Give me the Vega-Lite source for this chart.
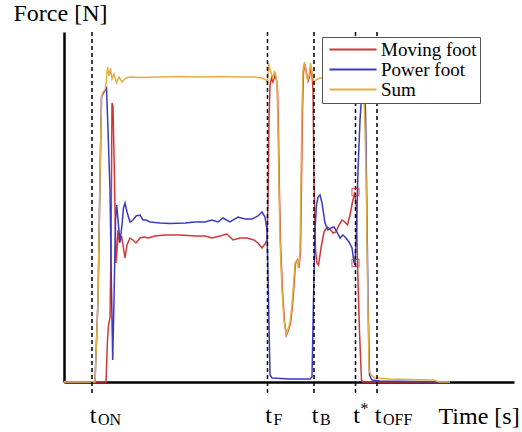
{
  "$schema": "https://vega.github.io/schema/vega-lite/v6.json",
  "width": 450,
  "height": 350,
  "autosize": "none",
  "padding": {"left": 64, "top": 32, "right": 8, "bottom": 50},
  "config": {
    "view": {"stroke": null},
    "font": "Liberation Serif",
    "axis": {"domain": true, "domainColor": "#000", "domainWidth": 2.5, "ticks": false, "labels": false, "grid": false,
      "titleFont": "Liberation Serif", "titleFontSize": 24, "titleFontWeight": "normal", "titleColor": "#000"}
  },
  "datasets": {
    "lines": [
      {"series": "Moving foot", "t": 0, "F": 0},
      {"series": "Moving foot", "t": 42, "F": 0},
      {"series": "Moving foot", "t": 43.5, "F": 42},
      {"series": "Moving foot", "t": 44.5, "F": 57},
      {"series": "Moving foot", "t": 46, "F": 64},
      {"series": "Moving foot", "t": 47, "F": 132},
      {"series": "Moving foot", "t": 48, "F": 279},
      {"series": "Moving foot", "t": 49, "F": 276},
      {"series": "Moving foot", "t": 50.5, "F": 202},
      {"series": "Moving foot", "t": 52, "F": 119},
      {"series": "Moving foot", "t": 53, "F": 132},
      {"series": "Moving foot", "t": 54, "F": 152},
      {"series": "Moving foot", "t": 55.5, "F": 139},
      {"series": "Moving foot", "t": 57.5, "F": 146},
      {"series": "Moving foot", "t": 59, "F": 137},
      {"series": "Moving foot", "t": 61, "F": 124},
      {"series": "Moving foot", "t": 63, "F": 137},
      {"series": "Moving foot", "t": 66, "F": 144},
      {"series": "Moving foot", "t": 69, "F": 142},
      {"series": "Moving foot", "t": 72, "F": 139},
      {"series": "Moving foot", "t": 76, "F": 144},
      {"series": "Moving foot", "t": 80, "F": 145},
      {"series": "Moving foot", "t": 84, "F": 144},
      {"series": "Moving foot", "t": 91, "F": 146},
      {"series": "Moving foot", "t": 101, "F": 147},
      {"series": "Moving foot", "t": 116, "F": 147},
      {"series": "Moving foot", "t": 131, "F": 146},
      {"series": "Moving foot", "t": 141, "F": 146},
      {"series": "Moving foot", "t": 148, "F": 144},
      {"series": "Moving foot", "t": 156, "F": 146},
      {"series": "Moving foot", "t": 163, "F": 148},
      {"series": "Moving foot", "t": 169, "F": 142},
      {"series": "Moving foot", "t": 176, "F": 144},
      {"series": "Moving foot", "t": 183, "F": 144},
      {"series": "Moving foot", "t": 190, "F": 142},
      {"series": "Moving foot", "t": 194, "F": 139},
      {"series": "Moving foot", "t": 198, "F": 134},
      {"series": "Moving foot", "t": 201, "F": 138},
      {"series": "Moving foot", "t": 203, "F": 142},
      {"series": "Moving foot", "t": 204, "F": 182},
      {"series": "Moving foot", "t": 205, "F": 262},
      {"series": "Moving foot", "t": 206, "F": 297},
      {"series": "Moving foot", "t": 207.5, "F": 304},
      {"series": "Moving foot", "t": 209, "F": 300},
      {"series": "Moving foot", "t": 211, "F": 307},
      {"series": "Moving foot", "t": 212.5, "F": 302},
      {"series": "Moving foot", "t": 213.5, "F": 292},
      {"series": "Moving foot", "t": 214.5, "F": 247},
      {"series": "Moving foot", "t": 215.5, "F": 187},
      {"series": "Moving foot", "t": 216.5, "F": 140},
      {"series": "Moving foot", "t": 218.5, "F": 90},
      {"series": "Moving foot", "t": 220.5, "F": 60},
      {"series": "Moving foot", "t": 222.5, "F": 47},
      {"series": "Moving foot", "t": 224.5, "F": 52},
      {"series": "Moving foot", "t": 226.5, "F": 59},
      {"series": "Moving foot", "t": 228.5, "F": 77},
      {"series": "Moving foot", "t": 230, "F": 97},
      {"series": "Moving foot", "t": 231.5, "F": 119},
      {"series": "Moving foot", "t": 233.5, "F": 122},
      {"series": "Moving foot", "t": 235, "F": 114},
      {"series": "Moving foot", "t": 236.5, "F": 132},
      {"series": "Moving foot", "t": 237.5, "F": 202},
      {"series": "Moving foot", "t": 238.5, "F": 272},
      {"series": "Moving foot", "t": 239.5, "F": 310},
      {"series": "Moving foot", "t": 241, "F": 318},
      {"series": "Moving foot", "t": 242.5, "F": 309},
      {"series": "Moving foot", "t": 244, "F": 301},
      {"series": "Moving foot", "t": 245.5, "F": 305},
      {"series": "Moving foot", "t": 247, "F": 316},
      {"series": "Moving foot", "t": 248, "F": 308},
      {"series": "Moving foot", "t": 249, "F": 292},
      {"series": "Moving foot", "t": 250, "F": 202},
      {"series": "Moving foot", "t": 251.5, "F": 132},
      {"series": "Moving foot", "t": 253, "F": 119},
      {"series": "Moving foot", "t": 254.5, "F": 117},
      {"series": "Moving foot", "t": 256, "F": 127},
      {"series": "Moving foot", "t": 257.5, "F": 137},
      {"series": "Moving foot", "t": 260, "F": 150},
      {"series": "Moving foot", "t": 263, "F": 155},
      {"series": "Moving foot", "t": 266, "F": 153},
      {"series": "Moving foot", "t": 269, "F": 149},
      {"series": "Moving foot", "t": 272, "F": 150},
      {"series": "Moving foot", "t": 275, "F": 157},
      {"series": "Moving foot", "t": 278, "F": 162},
      {"series": "Moving foot", "t": 281, "F": 160},
      {"series": "Moving foot", "t": 283.5, "F": 157},
      {"series": "Moving foot", "t": 286, "F": 167},
      {"series": "Moving foot", "t": 288.5, "F": 180},
      {"series": "Moving foot", "t": 291, "F": 190},
      {"series": "Moving foot", "t": 292.5, "F": 170},
      {"series": "Moving foot", "t": 293.5, "F": 119},
      {"series": "Moving foot", "t": 295.5, "F": 50},
      {"series": "Moving foot", "t": 297.5, "F": 2},
      {"series": "Moving foot", "t": 299, "F": 0},
      {"series": "Moving foot", "t": 386, "F": 0},

      {"series": "Power foot", "t": 0, "F": 0},
      {"series": "Power foot", "t": 31, "F": 0},
      {"series": "Power foot", "t": 34, "F": 82},
      {"series": "Power foot", "t": 36, "F": 202},
      {"series": "Power foot", "t": 37.5, "F": 285},
      {"series": "Power foot", "t": 40, "F": 290},
      {"series": "Power foot", "t": 42.5, "F": 294},
      {"series": "Power foot", "t": 44, "F": 252},
      {"series": "Power foot", "t": 46, "F": 192},
      {"series": "Power foot", "t": 47.5, "F": 92},
      {"series": "Power foot", "t": 48.7, "F": 22},
      {"series": "Power foot", "t": 50, "F": 82},
      {"series": "Power foot", "t": 51.5, "F": 162},
      {"series": "Power foot", "t": 52.7, "F": 177},
      {"series": "Power foot", "t": 54, "F": 162},
      {"series": "Power foot", "t": 56, "F": 140},
      {"series": "Power foot", "t": 58, "F": 157},
      {"series": "Power foot", "t": 59.5, "F": 174},
      {"series": "Power foot", "t": 61, "F": 179},
      {"series": "Power foot", "t": 63, "F": 170},
      {"series": "Power foot", "t": 66, "F": 160},
      {"series": "Power foot", "t": 69, "F": 162},
      {"series": "Power foot", "t": 72, "F": 166},
      {"series": "Power foot", "t": 76, "F": 167},
      {"series": "Power foot", "t": 79, "F": 162},
      {"series": "Power foot", "t": 82, "F": 162},
      {"series": "Power foot", "t": 86, "F": 160},
      {"series": "Power foot", "t": 96, "F": 159},
      {"series": "Power foot", "t": 106, "F": 158.5},
      {"series": "Power foot", "t": 121, "F": 159},
      {"series": "Power foot", "t": 131, "F": 160},
      {"series": "Power foot", "t": 141, "F": 160},
      {"series": "Power foot", "t": 148, "F": 162},
      {"series": "Power foot", "t": 154, "F": 160},
      {"series": "Power foot", "t": 159, "F": 164},
      {"series": "Power foot", "t": 166, "F": 160},
      {"series": "Power foot", "t": 174, "F": 165},
      {"series": "Power foot", "t": 181, "F": 163},
      {"series": "Power foot", "t": 188, "F": 163},
      {"series": "Power foot", "t": 194, "F": 166},
      {"series": "Power foot", "t": 198, "F": 170},
      {"series": "Power foot", "t": 201, "F": 165},
      {"series": "Power foot", "t": 203, "F": 152},
      {"series": "Power foot", "t": 204.5, "F": 82},
      {"series": "Power foot", "t": 206, "F": 7},
      {"series": "Power foot", "t": 208, "F": 4},
      {"series": "Power foot", "t": 226, "F": 3},
      {"series": "Power foot", "t": 246, "F": 3},
      {"series": "Power foot", "t": 248, "F": 5},
      {"series": "Power foot", "t": 249.5, "F": 82},
      {"series": "Power foot", "t": 251, "F": 152},
      {"series": "Power foot", "t": 252.5, "F": 177},
      {"series": "Power foot", "t": 254, "F": 185},
      {"series": "Power foot", "t": 256, "F": 187},
      {"series": "Power foot", "t": 258, "F": 179},
      {"series": "Power foot", "t": 261, "F": 159},
      {"series": "Power foot", "t": 264, "F": 152},
      {"series": "Power foot", "t": 267, "F": 154},
      {"series": "Power foot", "t": 270, "F": 155},
      {"series": "Power foot", "t": 273, "F": 150},
      {"series": "Power foot", "t": 276, "F": 144},
      {"series": "Power foot", "t": 279, "F": 147},
      {"series": "Power foot", "t": 282, "F": 144},
      {"series": "Power foot", "t": 285, "F": 140},
      {"series": "Power foot", "t": 288, "F": 134},
      {"series": "Power foot", "t": 290, "F": 120},
      {"series": "Power foot", "t": 291, "F": 117},
      {"series": "Power foot", "t": 292.5, "F": 152},
      {"series": "Power foot", "t": 294, "F": 212},
      {"series": "Power foot", "t": 296, "F": 262},
      {"series": "Power foot", "t": 298, "F": 292},
      {"series": "Power foot", "t": 300, "F": 304},
      {"series": "Power foot", "t": 301.5, "F": 270},
      {"series": "Power foot", "t": 302.5, "F": 202},
      {"series": "Power foot", "t": 304, "F": 82},
      {"series": "Power foot", "t": 305.5, "F": 7},
      {"series": "Power foot", "t": 308, "F": 2},
      {"series": "Power foot", "t": 316, "F": 1},
      {"series": "Power foot", "t": 386, "F": 0},

      {"series": "Sum", "t": 0, "F": 0},
      {"series": "Sum", "t": 31, "F": 0},
      {"series": "Sum", "t": 34, "F": 82},
      {"series": "Sum", "t": 36, "F": 202},
      {"series": "Sum", "t": 37.5, "F": 285},
      {"series": "Sum", "t": 39, "F": 290},
      {"series": "Sum", "t": 41, "F": 292},
      {"series": "Sum", "t": 42, "F": 298},
      {"series": "Sum", "t": 43.5, "F": 315},
      {"series": "Sum", "t": 45, "F": 306},
      {"series": "Sum", "t": 46.5, "F": 314},
      {"series": "Sum", "t": 48, "F": 303},
      {"series": "Sum", "t": 50, "F": 308},
      {"series": "Sum", "t": 52.5, "F": 299},
      {"series": "Sum", "t": 55, "F": 305},
      {"series": "Sum", "t": 58, "F": 300},
      {"series": "Sum", "t": 62, "F": 304},
      {"series": "Sum", "t": 66, "F": 305},
      {"series": "Sum", "t": 76, "F": 304.5},
      {"series": "Sum", "t": 96, "F": 305},
      {"series": "Sum", "t": 116, "F": 305.5},
      {"series": "Sum", "t": 136, "F": 305},
      {"series": "Sum", "t": 156, "F": 305.5},
      {"series": "Sum", "t": 176, "F": 305},
      {"series": "Sum", "t": 191, "F": 305},
      {"series": "Sum", "t": 198, "F": 304},
      {"series": "Sum", "t": 202, "F": 302},
      {"series": "Sum", "t": 203.5, "F": 300},
      {"series": "Sum", "t": 204.5, "F": 319},
      {"series": "Sum", "t": 206, "F": 312},
      {"series": "Sum", "t": 207.5, "F": 308},
      {"series": "Sum", "t": 209, "F": 304},
      {"series": "Sum", "t": 210.5, "F": 311},
      {"series": "Sum", "t": 212, "F": 306},
      {"series": "Sum", "t": 213, "F": 297},
      {"series": "Sum", "t": 214, "F": 252},
      {"series": "Sum", "t": 215, "F": 192},
      {"series": "Sum", "t": 216, "F": 142},
      {"series": "Sum", "t": 218, "F": 92},
      {"series": "Sum", "t": 220, "F": 62},
      {"series": "Sum", "t": 222, "F": 47},
      {"series": "Sum", "t": 224, "F": 52},
      {"series": "Sum", "t": 226, "F": 59},
      {"series": "Sum", "t": 228, "F": 77},
      {"series": "Sum", "t": 229.5, "F": 97},
      {"series": "Sum", "t": 231, "F": 119},
      {"series": "Sum", "t": 233, "F": 122},
      {"series": "Sum", "t": 234.5, "F": 114},
      {"series": "Sum", "t": 236, "F": 132},
      {"series": "Sum", "t": 237, "F": 202},
      {"series": "Sum", "t": 238, "F": 272},
      {"series": "Sum", "t": 239, "F": 312},
      {"series": "Sum", "t": 240.5, "F": 320},
      {"series": "Sum", "t": 242, "F": 310},
      {"series": "Sum", "t": 243.5, "F": 302},
      {"series": "Sum", "t": 245, "F": 306},
      {"series": "Sum", "t": 246.5, "F": 319},
      {"series": "Sum", "t": 248, "F": 310},
      {"series": "Sum", "t": 249.5, "F": 300},
      {"series": "Sum", "t": 252, "F": 302},
      {"series": "Sum", "t": 256, "F": 304},
      {"series": "Sum", "t": 266, "F": 305},
      {"series": "Sum", "t": 286, "F": 305},
      {"series": "Sum", "t": 296, "F": 306},
      {"series": "Sum", "t": 299, "F": 302},
      {"series": "Sum", "t": 300.5, "F": 272},
      {"series": "Sum", "t": 302, "F": 212},
      {"series": "Sum", "t": 303.5, "F": 102},
      {"series": "Sum", "t": 305, "F": 12},
      {"series": "Sum", "t": 307, "F": 7},
      {"series": "Sum", "t": 311, "F": 4},
      {"series": "Sum", "t": 326, "F": 3},
      {"series": "Sum", "t": 369, "F": 2},
      {"series": "Sum", "t": 376, "F": 0},
      {"series": "Sum", "t": 386, "F": 0}
    ],
    "events": [
      {"t": 28, "main": "t", "sub": "ON", "kind": "sub"},
      {"t": 203.5, "main": "t", "sub": "F", "kind": "sub"},
      {"t": 250, "main": "t", "sub": "B", "kind": "sub"},
      {"t": 291.5, "main": "t", "sub": "*", "kind": "sup"},
      {"t": 313, "main": "t", "sub": "OFF", "kind": "sub"}
    ],
    "markers": [
      {"t": 291.5, "F": 190},
      {"t": 291.5, "F": 119}
    ]
  },
  "layer": [
    {
      "data": {"name": "lines"},
      "mark": {"type": "line", "strokeWidth": 1.5, "interpolate": "linear"},
      "encoding": {
        "x": {"field": "t", "type": "quantitative", "scale": {"domain": [0, 450], "nice": false, "zero": false},
          "axis": {"title": "Time [s]", "titleX": 374, "titleY": 41, "titleAlign": "left", "titleBaseline": "alphabetic", "titleFontWeight": "normal"}},
        "y": {"field": "F", "type": "quantitative", "scale": {"domain": [0, 350], "nice": false, "zero": false},
          "axis": {"title": "Force [N]", "titleAngle": 0, "titleX": -51, "titleY": -11.5, "titleAlign": "left", "titleBaseline": "alphabetic", "titleFontWeight": "normal"}},
        "color": {"field": "series", "type": "nominal",
          "scale": {"domain": ["Moving foot", "Power foot", "Sum"], "range": ["#d03838", "#3b3bc0", "#e4ae42"]},
          "legend": {"title": null, "orient": "none", "legendX": 258, "legendY": 5, "padding": 3,
            "strokeColor": "#555", "fillColor": "#fff", "labelFont": "Liberation Serif", "labelFontSize": 19,
            "labelColor": "#000", "symbolType": "M-4.7,0H4.7", "symbolSize": 100, "symbolStrokeWidth": 2,
            "symbolOffset": 18.5, "rowPadding": -2, "labelOffset": 18.5}}
      }
    },
    {
      "data": {"name": "events"},
      "mark": {"type": "rule", "strokeDash": [4, 3], "strokeWidth": 1.5, "color": "#000"},
      "encoding": {
        "x": {"field": "t", "type": "quantitative"},
        "y": {"datum": 350},
        "y2": {"datum": -11}
      }
    },
    {
      "data": {"name": "markers"},
      "mark": {"type": "point", "shape": "square", "filled": false, "size": 50, "strokeWidth": 1.2, "color": "#d03838"},
      "encoding": {
        "x": {"field": "t", "type": "quantitative"},
        "y": {"field": "F", "type": "quantitative"}
      }
    },
    {
      "data": {"name": "events"},
      "mark": {"type": "text", "font": "Liberation Serif", "fontSize": 24, "align": "center", "baseline": "alphabetic", "dx": 1, "color": "#000"},
      "encoding": {
        "x": {"field": "t", "type": "quantitative"},
        "y": {"datum": -41},
        "text": {"field": "main"}
      }
    },
    {
      "data": {"name": "events"},
      "transform": [{"filter": "datum.kind === 'sub'"}],
      "mark": {"type": "text", "font": "Liberation Serif", "fontSize": 16, "align": "left", "baseline": "alphabetic", "dx": 6, "color": "#000"},
      "encoding": {
        "x": {"field": "t", "type": "quantitative"},
        "y": {"datum": -43},
        "text": {"field": "sub"}
      }
    },
    {
      "data": {"name": "events"},
      "transform": [{"filter": "datum.kind === 'sup'"}],
      "mark": {"type": "text", "font": "Liberation Serif", "fontSize": 16, "align": "left", "baseline": "alphabetic", "dx": 5, "color": "#000"},
      "encoding": {
        "x": {"field": "t", "type": "quantitative"},
        "y": {"datum": -31.5},
        "text": {"field": "sub"}
      }
    },
    {
      "mark": {"type": "point", "shape": "M0,-1L-0.6,1L0.6,1Z", "filled": true, "size": 100, "color": "#000", "opacity": 1},
      "encoding": {
        "x": {"datum": 0},
        "y": {"datum": 345}
      }
    },
    {
      "mark": {"type": "point", "shape": "M1,0L-1,-0.9L-1,0.9Z", "filled": true, "size": 100, "color": "#000", "opacity": 1},
      "encoding": {
        "x": {"datum": 452.7},
        "y": {"datum": 0}
      }
    }
  ]
}
